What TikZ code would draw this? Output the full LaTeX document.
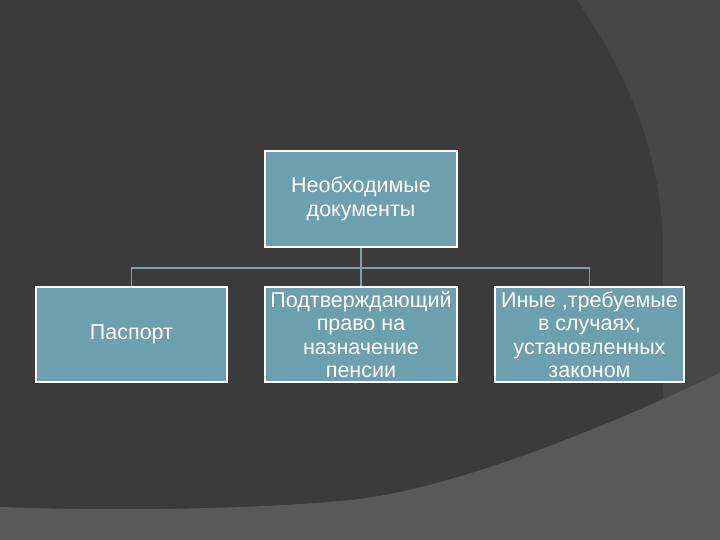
\documentclass[tikz,border=0pt]{standalone}
\usepackage{fontspec}
\setmainfont{Liberation Sans}
\definecolor{bgdark}{HTML}{3B3B3B}
\definecolor{bgright}{HTML}{474747}
\definecolor{bgbottom}{HTML}{595959}
\definecolor{boxfill}{HTML}{6E9FAC}
\definecolor{linkcol}{HTML}{83A2A7}
\tikzset{
  docbox/.style={draw=white, line width=2pt, fill=boxfill, text=white, align=center,
    inner sep=0pt, font=\fontsize{21.5}{23.5}\selectfont},
  link/.style={draw=linkcol, line width=1.8pt}
}
\begin{document}
\begin{tikzpicture}[x=1pt,y=-1pt]
\useasboundingbox (0,0) rectangle (720,540);
\fill[bgdark] (0,0) rectangle (720,540);
\fill[bgright] (577,0) .. controls (625,70) and (662,150) .. (663,250) -- (663,540) -- (720,540) -- (720,0) -- cycle;
\fill[bgbottom] (0,507) .. controls (100,511) and (250,510) .. (350,500) .. controls (450,490) and (600,430) .. (720,373) -- (720,540) -- (0,540) -- cycle;

\node[docbox, minimum width=192pt, minimum height=96pt] (top) at (361,199) {Необходимые\\документы};
\node[docbox, minimum width=191pt, minimum height=95pt] (left) at (131.5,334.5) {Паспорт};
\node[docbox, minimum width=192pt, minimum height=95pt] (mid) at (361,334.5) {Подтверждающий\\право на\\назначение\\пенсии};
\node[docbox, minimum width=189pt, minimum height=95pt] (right) at (589.5,334.5) {Иные ,требуемые\\в случаях,\\установленных\\законом};

\draw[link] (top.south) -- ++(0,20) -| (left.north);
\draw[link] (top.south) -- ++(0,20) -| (right.north);
\draw[link] (top.south) -- (mid.north);
\end{tikzpicture}
\end{document}
